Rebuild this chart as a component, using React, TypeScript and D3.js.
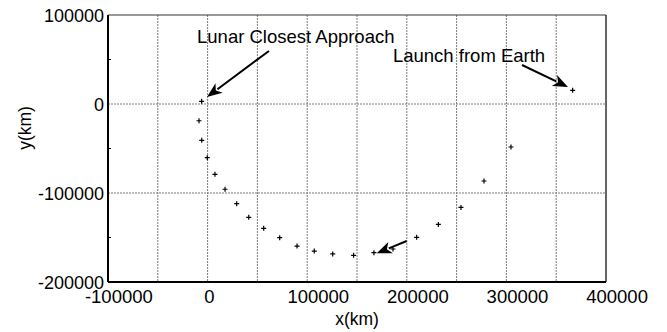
import { useEffect, useRef } from "react";
import * as d3 from "d3";

// trajectory points (km)
const xKm = [
  -6000, -8600, -5900, -300, 7400, 17500, 29200, 41300, 56300, 72400, 89800,
  107100, 125600, 146600, 167000, 186100, 209900, 231700, 254400, 277500,
  304600, 366500,
];
const yKm = [
  3000, -18800, -40800, -60300, -79000, -95800, -112000, -127300, -139700,
  -150200, -159600, -165200, -168500, -170000, -167000, -162900, -149800,
  -135300, -116200, -86500, -48300, 15400,
];

const xTickLabels = [-100000, 0, 100000, 200000, 300000, 400000];
const xGrid = [-50000, 0, 50000, 100000, 150000, 200000, 250000, 300000, 350000];
const yTickLabels = [100000, 0, -100000, -200000];
const yGrid = [0, -100000];
const yMinorTicks = [50000, -50000, -150000];

// annotations: text anchor and arrow [from, to] in data units
const notes = [
  { text: "Lunar Closest Approach", x: -10600, y: 68500, arrow: [61600, 59600, -600, 7900] },
  { text: "Launch from Earth", x: 186100, y: 47500, arrow: [315700, 43800, 361800, 19100] },
  { text: "", x: 0, y: 0, arrow: [199900, -153900, 169800, -167800] },
];

export default function App() {
  const ref = useRef<SVGSVGElement | null>(null);

  useEffect(() => {
    if (!ref.current) return;
    ref.current.innerHTML = "";

    const margin = { top: 15, right: 61, bottom: 50, left: 108 },
      width = 667 - margin.left - margin.right,
      height = 332 - margin.top - margin.bottom;
    const font = "'Liberation Sans', Arial, Helvetica, sans-serif";

    const svg = d3
      .select(ref.current)
      .append("g")
      .attr("transform", `translate(${margin.left},${margin.top})`);

    const x = d3.scaleLinear().domain([-100000, 400000]).range([0, width]);
    const y = d3.scaleLinear().domain([-200000, 100000]).range([height, 0]);

    // grid
    svg
      .selectAll(".vgrid")
      .data(xGrid)
      .join("line")
      .attr("x1", (d) => x(d))
      .attr("x2", (d) => x(d))
      .attr("y1", 0)
      .attr("y2", height)
      .attr("stroke", "#7a7a7a")
      .attr("stroke-dasharray", "2,1");
    svg
      .selectAll(".hgrid")
      .data(yGrid)
      .join("line")
      .attr("x1", 0)
      .attr("x2", width)
      .attr("y1", (d) => y(d))
      .attr("y2", (d) => y(d))
      .attr("stroke", "#7a7a7a")
      .attr("stroke-dasharray", "2,1");

    // frame
    svg.append("line").attr("x1", 0).attr("x2", width).attr("y1", 0).attr("y2", 0)
      .attr("stroke", "#333").attr("stroke-width", 1.2);
    svg.append("line").attr("x1", width).attr("x2", width).attr("y1", 0).attr("y2", height)
      .attr("stroke", "#333").attr("stroke-width", 1.5);
    svg.append("line").attr("x1", 0).attr("x2", width).attr("y1", height).attr("y2", height)
      .attr("stroke", "#000").attr("stroke-width", 2);
    svg.append("line").attr("x1", 0).attr("x2", 0).attr("y1", 0).attr("y2", height)
      .attr("stroke", "#000").attr("stroke-width", 2);

    svg
      .selectAll(".ymin")
      .data(yMinorTicks)
      .join("line")
      .attr("x1", 0)
      .attr("x2", 3)
      .attr("y1", (d) => y(d))
      .attr("y2", (d) => y(d))
      .attr("stroke", "#000");

    // tick labels
    svg
      .selectAll(".xlab")
      .data(xTickLabels)
      .join("text")
      .attr("x", (d) => x(d) - String(d).length * 3.3)
      .attr("y", height + 21)
      .attr("font-family", font)
      .attr("font-size", 18.5)
      .text((d) => String(d));
    svg
      .selectAll(".ylab")
      .data(yTickLabels)
      .join("text")
      .attr("x", -4)
      .attr("y", (d) => y(d) + 6.5)
      .attr("text-anchor", "end")
      .attr("font-family", font)
      .attr("font-size", 18)
      .text((d) => String(d));

    // axis titles
    svg
      .append("text")
      .attr("x", 249)
      .attr("y", height + 43)
      .attr("text-anchor", "middle")
      .attr("font-family", font)
      .attr("font-size", 17.5)
      .text("x(km)");
    svg
      .append("text")
      .attr("transform", `translate(${25 - margin.left + 6},${128 - margin.top}) rotate(-90)`)
      .attr("text-anchor", "middle")
      .attr("font-family", font)
      .attr("font-size", 17.5)
      .text("y(km)");

    // points
    const pts = xKm.map((v, i) => ({ x: v, y: yKm[i] }));
    svg
      .selectAll(".pt")
      .data(pts)
      .join("path")
      .attr("d", (d) => {
        const px = x(d.x), py = y(d.y);
        return `M${px - 2.5},${py}H${px + 2.5}M${px},${py - 2.5}V${py + 2.5}`;
      })
      .attr("stroke", "#000")
      .attr("stroke-width", 1.2);

    // annotations
    notes.forEach((n) => {
      if (n.text)
        svg
          .append("text")
          .attr("x", x(n.x))
          .attr("y", y(n.y))
          .attr("font-family", font)
          .attr("font-size", 18.5)
          .text(n.text);
      const [x1, y1, x2, y2] = n.arrow;
      const ax = x(x1), ay = y(y1), bx = x(x2), by = y(y2);
      const ang = Math.atan2(by - ay, bx - ax);
      const len = 15, hw = 6;
      const cx = bx - len * Math.cos(ang), cy = by - len * Math.sin(ang);
      svg
        .append("line")
        .attr("x1", ax)
        .attr("y1", ay)
        .attr("x2", cx + 2 * Math.cos(ang))
        .attr("y2", cy + 2 * Math.sin(ang))
        .attr("stroke", "#000")
        .attr("stroke-width", 2);
      svg
        .append("path")
        .attr(
          "d",
          `M${bx},${by}L${cx + hw * Math.sin(ang)},${cy - hw * Math.cos(ang)}L${cx + 4 * Math.cos(ang)},${cy + 4 * Math.sin(ang)}L${cx - hw * Math.sin(ang)},${cy + hw * Math.cos(ang)}Z`
        )
        .attr("fill", "#000");
    });
  }, []);

  return (
    <svg
      ref={ref}
      width={667}
      height={332}
      style={{ position: "fixed", left: 0, top: 0, background: "#fff" }}
    />
  );
}
